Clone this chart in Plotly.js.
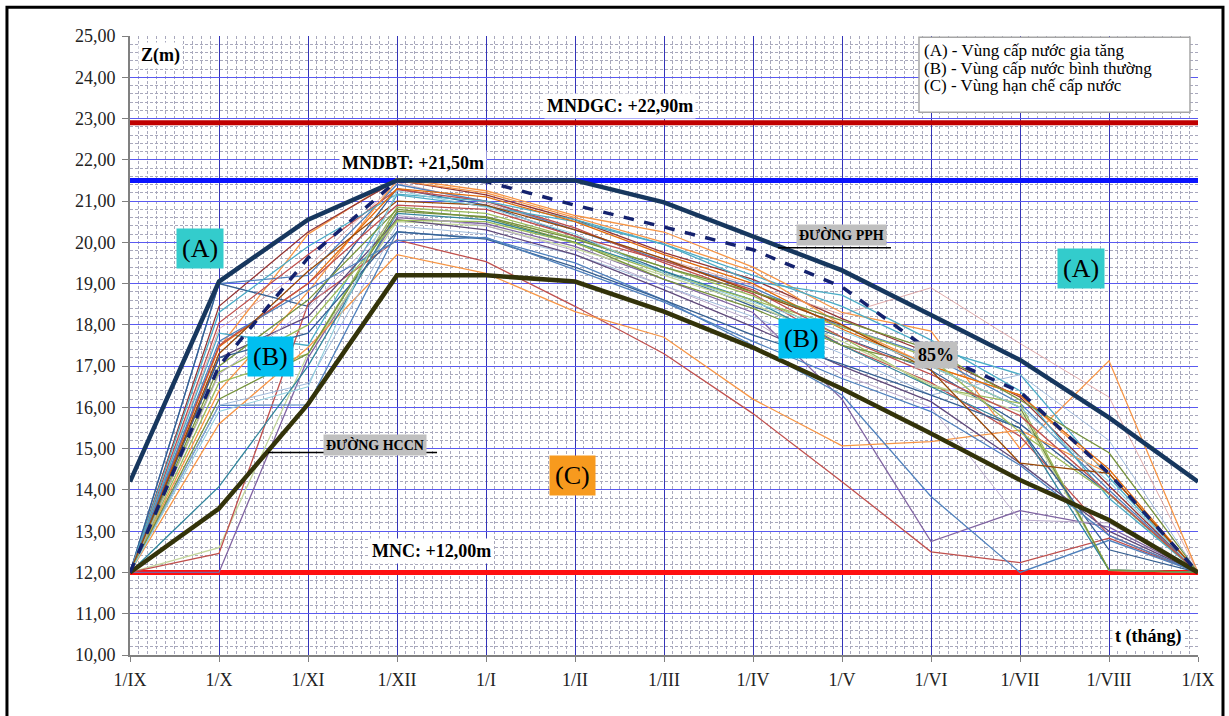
<!DOCTYPE html>
<html><head><meta charset="utf-8">
<script src="https://cdn.plot.ly/plotly-3.0.1.min.js"></script>
<style>html,body{margin:0;padding:0;background:#fff}#chart{width:1229px;height:716px}</style>
</head><body><div id="chart"></div>
<script>
// ---- DATA ----
const months = ['1/IX','1/X','1/XI','1/XII','1/I','1/II','1/III','1/IV','1/V','1/VI','1/VII','1/VIII','1/IX'];
const monthIdx = [0,1,2,3,4,5,6,7,8,9,10,11,12];
const levelMNDGC = 22.90;
const levelMNDBT = 21.50;
const levelMNC = 12.00;
// Rule curves
const duongPPH  = [14.2, 19.05, 20.55, 21.5, 21.5, 21.5, 20.97, 20.15, 19.32, 18.24, 17.15, 15.75, 14.2];
const duong85   = [12.0, 17.0, 19.62, 21.5, 21.47, 20.9, 20.37, 19.82, 18.92, 17.35, 16.38, 14.4, 12.0];
const duongHCCN = [12.0, 13.55, 16.08, 19.2, 19.2, 19.05, 18.32, 17.45, 16.45, 15.37, 14.24, 13.27, 12.0];
// Historical water level series (thin lines)
const s01 = [12, 17.45, 20.2, 21.55, 21.25, 20.65, 20.25, 19.4, 18.3, 17.85, 15.0, 17.13, 12];
const s02 = [12, 18.45, 20.25, 21.5, 21.15, 20.55, 19.75, 19.1, 18.15, 17.3, 16.25, 14.1, 12];
const s03 = [12, 17.9, 19.4, 21.45, 20.95, 20.3, 19.6, 18.95, 18.25, 18.9, 17.55, 16.25, 12];
const s04 = [12, 19.0, 19.2, 21.4, 21.0, 20.3, 19.55, 18.9, 17.95, 17.25, 16.1, 14.0, 12];
const s05 = [12, 19.0, 18.45, 21.3, 20.9, 20.15, 19.3, 18.45, 17.7, 16.9, 15.6, 13.9, 12];
const s06 = [12, 18.05, 19.7, 21.28, 21.0, 20.35, 19.5, 18.75, 17.5, 16.6, 15.3, 12.9, 12];
const s07 = [12, 17.8, 17.5, 21.15, 20.87, 20.5, 19.95, 19.2, 18.45, 17.45, 16.8, 14.3, 12];
const s08 = [12, 16.4, 18.8, 21.5, 21.2, 20.6, 20.0, 19.3, 18.0, 17.0, 16.3, 14.4, 12];
const s09 = [12, 16.6, 17.3, 20.85, 20.7, 20.1, 19.4, 18.7, 17.7, 16.5, 16.1, 12.05, 12];
const s10 = [12, 12.0, 17.2, 20.6, 20.45, 19.9, 19.1, 18.3, 16.2, 12.75, 13.5, 13.1, 12];
const s11 = [12, 12.6, 17.3, 20.5, 20.4, 19.85, 19.2, 18.5, 17.6, 16.55, 15.9, 12.05, 12];
const s12 = [12, 12.46, 18.5, 20.06, 19.53, 18.45, 17.3, 15.85, 14.2, 12.5, 12.24, 12.83, 12];
const s13 = [12, 15.6, 17.45, 19.7, 19.25, 18.32, 17.7, 16.2, 15.07, 15.17, 15.45, 14.4, 12];
const s14 = [12, 16.05, 16.06, 20.25, 20.1, 19.5, 18.6, 17.5, 16.3, 13.84, 12.0, 12.78, 12];
const s15 = [12, 16.05, 16.58, 20.4, 20.2, 19.7, 18.95, 18.2, 17.3, 16.3, 16.79, 15.2, 12];
const s16 = [12, 14.08, 17.0, 20.7, 20.55, 20.0, 19.3, 18.6, 17.5, 16.5, 15.5, 12.06, 12];
const s17 = [12, 17.2, 18.2, 20.55, 20.3, 19.7, 18.85, 17.95, 17.0, 16.14, 14.65, 13.0, 12];
const s18 = [12, 17.0, 18.6, 20.8, 20.6, 20.0, 19.1, 18.4, 17.5, 17.0, 16.0, 12.06, 12];
const s19 = [12, 18.3, 19.9, 21.17, 21.0, 20.55, 19.95, 19.05, 18.72, 17.63, 16.4, 13.8, 12];
const s20 = [12, 17.47, 19.0, 21.3, 21.1, 20.5, 19.7, 19.0, 17.9, 17.0, 16.3, 14.5, 12];
const s21 = [12, 17.2, 17.8, 20.26, 20.08, 19.4, 18.6, 17.75, 17.05, 16.3, 15.5, 12.55, 12];
const s22 = [12, 16.85, 18.0, 20.53, 20.5, 19.98, 19.25, 18.6, 17.95, 17.2, 15.4, 13.9, 12];
const s23 = [12, 17.5, 19.0, 20.9, 20.8, 20.15, 19.55, 18.85, 17.7, 16.8, 15.8, 13.92, 12];
const s24 = [12, 16.8, 18.4, 20.65, 20.4, 19.8, 18.95, 18.1, 16.8, 16.0, 13.27, 13.2, 12];
const s25 = [12, 17.6, 18.85, 20.04, 20.12, 19.33, 18.55, 17.6, 16.7, 15.9, 14.6, 12.9, 12];
const s26 = [12, 17.3, 19.3, 21.0, 20.9, 20.3, 19.6, 18.8, 18.0, 16.9, 14.65, 14.4, 12];
const s27 = [12, 16.2, 17.3, 20.75, 20.62, 20.08, 19.4, 18.8, 18.1, 17.4, 16.18, 14.9, 12];
const s28 = [12, 15.9, 16.5, 21.25, 20.85, 20.2, 19.25, 18.55, 17.85, 17.0, 16.0, 14.2, 12];
const historical = [s01,s02,s03,s04,s05,s06,s07,s08,s09,s10,s11,s12,s13,s14,s15,s16,s17,s18,s19,s20,s21,s22,s23,s24,s25,s26,s27,s28];
const histColors = ['#F79646','#943634','#D99694','#4F81BD','#366092','#C0504D','#4BACC6','#F79646','#9BBB59','#8064A2',
  '#C3D69B','#C0504D','#F79646','#4F81BD','#95B3D7','#31859C','#5F497A','#77933C','#4BACC6','#E46C0A',
  '#366092','#9BBB59','#C0504D','#B3A2C7','#4F81BD','#984807','#76923C','#92CDDC'];
const histWidths = [1.3,1.3,0.8,1.3,1.3,1.3,1.3,1.3,1.3,1.3,1.3,1.3,1.3,1.3,0.9,1.3,1.3,1.3,1.3,1.3,1.3,1.3,1.3,0.9,1.3,1.3,1.3,1.1];

// ---- TRACES ----
const F = '"Liberation Serif", "Times New Roman", Times, serif';
const traces = [];
function hline(v, color){
  return {x:[0,12], y:[v,v], mode:'lines', line:{color:color, width:5}, hoverinfo:'skip', showlegend:false};
}
traces.push(hline(levelMNDGC,'#C00000'));
traces.push(hline(levelMNDBT,'#0A14FF'));
traces.push(hline(levelMNC,'#FF1010'));
historical.forEach((s,i)=>{
  traces.push({x:monthIdx, y:s, mode:'lines', line:{color:histColors[i], width:histWidths[i]}, showlegend:false});
});
traces.push({x:monthIdx, y:duongHCCN, mode:'lines', line:{color:'#33330A', width:4.5}, showlegend:false});
traces.push({x:monthIdx, y:duong85, mode:'lines', line:{color:'#14226E', width:3.5, dash:'dash'}, showlegend:false});
traces.push({x:monthIdx, y:duongPPH, mode:'lines', line:{color:'#17375E', width:4.5}, showlegend:false});

// ---- ANNOTATIONS ----
function lbl(text,x,y,opts){
  return Object.assign({text:text, x:x, y:y, xref:'x', yref:'y', showarrow:false,
    font:{family:F, size:18, color:'#000'}}, opts||{});
}
const boldWhite = {bgcolor:'#FFFFFF', borderpad:2};
const annotations = [
  lbl('<b>Z(m)</b>', 0.34, 24.53, boldWhite),
  lbl('<b>MNDGC: +22,90m</b>', 5.5, 23.3, boldWhite),
  lbl('<b>MNDBT: +21,50m</b>', 3.18, 21.92, boldWhite),
  lbl('<b>MNC: +12,00m</b>', 3.39, 12.53, boldWhite),
  lbl('<b>t (tháng)</b>', 11.44, 10.44, boldWhite),
  lbl('<b>ĐƯỜNG PPH</b>', 7.99, 20.17, {font:{family:F,size:14,color:'#000'}, bgcolor:'#BFBFBF', borderpad:2}),
  lbl('<b>ĐƯỜNG HCCN</b>', 2.75, 15.09, {font:{family:F,size:14,color:'#000'}, bgcolor:'#BFBFBF', borderpad:2}),
  lbl('<b>85%</b>', 9.06, 17.27, {bgcolor:'#C0C0C0', borderpad:3}),
  lbl('(A)', 0.79, 19.86, {font:{family:F,size:26,color:'#000'}, bgcolor:'#33CCCC', borderpad:5}),
  lbl('(A)', 10.69, 19.37, {font:{family:F,size:26,color:'#000'}, bgcolor:'#33CCCC', borderpad:5}),
  lbl('(B)', 1.58, 17.24, {font:{family:F,size:26,color:'#000'}, bgcolor:'#00BFF0', borderpad:5}),
  lbl('(B)', 7.55, 17.68, {font:{family:F,size:26,color:'#000'}, bgcolor:'#00BFF0', borderpad:5}),
  lbl('(C)', 4.97, 14.34, {font:{family:F,size:26,color:'#000'}, bgcolor:'#F79A1E', borderpad:5}),
  lbl('(A) - Vùng cấp nước gia tăng', 8.9, 24.66, {xanchor:'left', font:{family:F,size:17,color:'#000'}}),
  lbl('(B) - Vùng cấp nước bình thường', 8.9, 24.22, {xanchor:'left', font:{family:F,size:17,color:'#000'}}),
  lbl('(C) - Vùng hạn chế cấp nước', 8.9, 23.81, {xanchor:'left', font:{family:F,size:17,color:'#000'}})
];

const shapes = [
  {type:'rect', xref:'x', yref:'y', x0:8.865, x1:11.91, y0:23.15, y1:24.97, fillcolor:'#FFFFFF', line:{color:'#A6A6A6', width:1.5}, layer:'above'},
  {type:'line', xref:'x', yref:'y', x0:7.28, x1:8.55, y0:19.87, y1:19.87, line:{color:'#000', width:1.5}},
  {type:'line', xref:'x', yref:'y', x0:1.55, x1:3.45, y0:14.91, y1:14.91, line:{color:'#000', width:1.5}},
  {type:'rect', xref:'paper', yref:'paper', x0:-0.1152, x1:1.0234, y0:-0.12, y1:1.0463, line:{color:'#000', width:3}, fillcolor:'rgba(0,0,0,0)'}
];

const layout = {
  width:1229, height:716,
  margin:{l:130, r:31, t:36, b:61},
  paper_bgcolor:'#FFFFFF', plot_bgcolor:'#FFFFFF',
  separators:',.',
  showlegend:false,
  font:{family:F, size:18, color:'#222'},
  xaxis:{
    range:[0,12], tickmode:'array', tickvals:monthIdx, ticktext:months,
    showgrid:true, gridcolor:'#3434B8', gridwidth:1, zeroline:false,
    showline:true, linecolor:'#808080', linewidth:2,
    ticks:'outside', ticklen:5, tickcolor:'#808080', ticklabelstandoff:2,
    tickfont:{family:F, size:18, color:'#222'},
    minor:{tickmode:'linear', tick0:0, dtick:0.1, showgrid:true, gridcolor:'#A8A8BC', griddash:'3px,2px', gridwidth:1, ticks:''}
  },
  yaxis:{
    range:[10,25], tickmode:'linear', tick0:10, dtick:1, tickformat:'.2f',
    showgrid:true, gridcolor:'#5A5AF0', gridwidth:1, zeroline:false,
    showline:true, linecolor:'#808080', linewidth:2,
    ticks:'outside', ticklen:6, tickcolor:'#808080', ticklabelstandoff:3,
    tickfont:{family:F, size:18, color:'#222'},
    minor:{tickmode:'linear', tick0:10, dtick:0.2, showgrid:true, gridcolor:'#A8A8BC', griddash:'3px,2px', gridwidth:1, ticks:''}
  },
  annotations:annotations,
  shapes:shapes
};
Plotly.newPlot('chart', traces, layout, {displayModeBar:false, staticPlot:true});
</script></body></html>
